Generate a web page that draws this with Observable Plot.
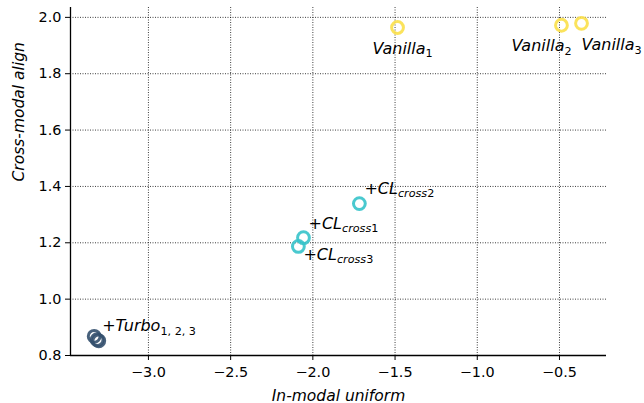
<!DOCTYPE html>
<html><head><meta charset="utf-8">
<script src="https://cdn.jsdelivr.net/npm/d3@7"></script>
<script src="https://cdn.jsdelivr.net/npm/@observablehq/plot@0.6"></script>
<style>
body{margin:0;background:#fff;}
svg{font-family:"DejaVu Sans",sans-serif;}
</style></head><body><div id="chart"></div>
<script>
const groups = ["Vanilla","Vanilla","Vanilla","CL","CL","CL","Turbo","Turbo","Turbo"];
const xValues = [-1.485,-0.488,-0.366,-2.057,-1.717,-2.088,-3.330,-3.312,-3.302];
const yValues = [1.964,1.972,1.979,1.218,1.339,1.187,0.868,0.856,0.852];
const colors = {Vanilla:"#fbe04a", CL:"#36c3ca", Turbo:"#34506e"};

const labelMain = ["Vanilla","Vanilla","Vanilla","+CL","+CL","+CL","+Turbo"];
const labelSub = ["1","2","3","cross1","cross2","cross3","1, 2, 3"];
const labelX = [-1.485,-0.488,-0.366,-2.057,-1.717,-2.088,-3.330];
const labelY = [1.964,1.972,1.979,1.218,1.339,1.187,0.868];
const labelDx = [-25,-50,0,5,5,5,8];
const labelDy = [21,21,22,-14,-15,8,-10];

const xTicks = [-3.0,-2.5,-2.0,-1.5,-1.0,-0.5];
const yTicks = [0.8,1.0,1.2,1.4,1.6,1.8,2.0];

const points = groups.map((g,i)=>({g, x:xValues[i], y:yValues[i]}));
const labels = labelMain.map((m,i)=>({m, s:labelSub[i], x:labelX[i], y:labelY[i], dx:labelDx[i], dy:labelDy[i]}));

const fmt = d => (d<0?"\u2212":"") + Math.abs(d).toFixed(1);

const plot = Plot.plot({
  width:644, height:403,
  marginLeft:70, marginRight:38, marginTop:7, marginBottom:48,
  style:{fontFamily:"DejaVu Sans", fontSize:"14px", background:"#fff"},
  x:{domain:[-3.474,-0.214], ticks:xTicks, tickFormat:fmt, label:null},
  y:{domain:[0.8,2.035], ticks:yTicks, tickFormat:d=>d.toFixed(1), label:null},
  marks:[
    Plot.gridX(xTicks,{stroke:"#000", strokeOpacity:0.85, strokeDasharray:"1,1.5", strokeWidth:0.9}),
    Plot.gridY(yTicks,{stroke:"#000", strokeOpacity:0.85, strokeDasharray:"1,1.5", strokeWidth:0.9}),
    Plot.dot(points,{x:"x", y:"y", r:5.9, stroke:d=>colors[d.g], strokeWidth:3, strokeOpacity:0.9, fill:"none"}),
    Plot.axisX({ticks:xTicks, tickFormat:fmt, tickSize:5, tickPadding:6, fontSize:14.4, stroke:"#000", tickWidth:1}),
    Plot.axisY({ticks:yTicks, tickFormat:d=>d.toFixed(1), tickSize:5, tickPadding:4, fontSize:14.4}),
    Plot.ruleX([-3.474],{stroke:"#000", strokeWidth:1.3}),
    Plot.ruleY([0.8],{stroke:"#000", strokeWidth:1.3}),
    ...labels.map(l => Plot.text([l],{x:"x", y:"y", text:d=>d.m+"|"+d.s, dx:l.dx, dy:l.dy, textAnchor:"start", fontSize:16, fontStyle:"italic", fill:"#000"})),
    Plot.text(["In-modal uniform"],{frameAnchor:"bottom", dy:45, fontSize:15.5, fontStyle:"italic", fill:"#000"}),
    Plot.text(["Cross-modal align"],{frameAnchor:"left", dx:-51, rotate:-90, fontSize:15.5, fontStyle:"italic", fill:"#000"})
  ]
});

d3.select(plot).selectAll("text").each(function(){
  const t = d3.select(this);
  const txt = t.text();
  if (txt.includes("|")) {
    const [m,s] = txt.split("|");
    t.text(null);
    t.append("tspan").text(m);
    const sub = t.append("tspan").attr("font-size","11.2px").attr("dy","0.3em");
    const parts = s.match(/[A-Za-z]+|[^A-Za-z]+/g);
    parts.forEach(p => {
      sub.append("tspan").attr("font-style", /[A-Za-z]/.test(p) ? "italic" : "normal").text(p);
    });
  }
});
document.getElementById("chart").appendChild(plot);
</script></body></html>
